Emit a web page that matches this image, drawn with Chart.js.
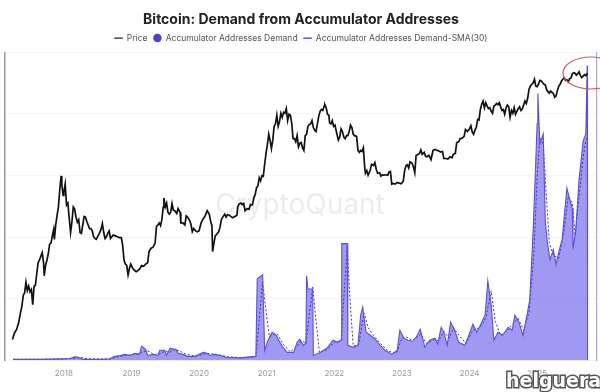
<!DOCTYPE html>
<html>
<head>
<meta charset="utf-8">
<script src="https://cdn.jsdelivr.net/npm/chart.js@4.4.1/dist/chart.umd.min.js"></script>
<style>
  html, body { margin: 0; padding: 0; background: #fff; }
  #wrap { width: 600px; height: 392px; }
</style>
</head>
<body>
<div id="wrap"><canvas id="myChart" width="600" height="392"></canvas></div>
<script>
// year ticks on the x axis
const yearTicks = [2018, 2019, 2020, 2021, 2022, 2023, 2024, 2025];

// BTC price (USD), x = decimal year
const priceT = [
    2017.24, 2017.27, 2017.30, 2017.33, 2017.36, 2017.38, 2017.40, 2017.42, 2017.44, 2017.46, 2017.48, 2017.50,
    2017.52, 2017.54, 2017.56, 2017.58, 2017.60, 2017.62, 2017.64, 2017.66, 2017.68, 2017.70, 2017.71, 2017.73,
    2017.75, 2017.77, 2017.79, 2017.81, 2017.83, 2017.85, 2017.86, 2017.88, 2017.90, 2017.92, 2017.94, 2017.96,
    2017.97, 2017.99, 2018.00, 2018.02, 2018.04, 2018.06, 2018.08, 2018.10, 2018.12, 2018.14, 2018.16, 2018.18,
    2018.20, 2018.22, 2018.24, 2018.26, 2018.28, 2018.30, 2018.32, 2018.34, 2018.36, 2018.38, 2018.40, 2018.42,
    2018.44, 2018.46, 2018.48, 2018.50, 2018.52, 2018.55, 2018.57, 2018.59, 2018.61, 2018.63, 2018.65, 2018.67,
    2018.69, 2018.71, 2018.73, 2018.76, 2018.79, 2018.82, 2018.85, 2018.87, 2018.89, 2018.91, 2018.93, 2018.95,
    2018.97, 2018.99, 2019.02, 2019.04, 2019.07, 2019.09, 2019.12, 2019.15, 2019.18, 2019.21, 2019.24, 2019.26,
    2019.29, 2019.32, 2019.35, 2019.37, 2019.39, 2019.41, 2019.43, 2019.45, 2019.47, 2019.48, 2019.50, 2019.52,
    2019.54, 2019.56, 2019.58, 2019.60, 2019.62, 2019.64, 2019.67, 2019.69, 2019.72, 2019.73, 2019.76, 2019.79,
    2019.81, 2019.83, 2019.86, 2019.88, 2019.90, 2019.92, 2019.95, 2019.97, 2020.00, 2020.03, 2020.06, 2020.09,
    2020.12, 2020.15, 2020.17, 2020.19, 2020.20, 2020.22, 2020.24, 2020.26, 2020.29, 2020.31, 2020.33, 2020.35,
    2020.38, 2020.40, 2020.42, 2020.45, 2020.48, 2020.50, 2020.53, 2020.56, 2020.57, 2020.59, 2020.62, 2020.64,
    2020.66, 2020.68, 2020.71, 2020.74, 2020.76, 2020.79, 2020.81, 2020.83, 2020.85, 2020.87, 2020.89, 2020.91,
    2020.93, 2020.95, 2020.97, 2020.99, 2021.01, 2021.03, 2021.05, 2021.07, 2021.09, 2021.11, 2021.13, 2021.15,
    2021.17, 2021.19, 2021.21, 2021.23, 2021.25, 2021.27, 2021.29, 2021.31, 2021.33, 2021.35, 2021.37, 2021.39,
    2021.41, 2021.43, 2021.45, 2021.47, 2021.49, 2021.51, 2021.53, 2021.55, 2021.57, 2021.59, 2021.61, 2021.63,
    2021.65, 2021.67, 2021.69, 2021.71, 2021.73, 2021.75, 2021.77, 2021.79, 2021.81, 2021.83, 2021.85, 2021.86,
    2021.88, 2021.90, 2021.92, 2021.93, 2021.95, 2021.97, 2021.99, 2022.01, 2022.03, 2022.06, 2022.08, 2022.10,
    2022.12, 2022.14, 2022.16, 2022.18, 2022.20, 2022.22, 2022.24, 2022.26, 2022.28, 2022.30, 2022.33, 2022.35,
    2022.37, 2022.39, 2022.41, 2022.43, 2022.45, 2022.46, 2022.48, 2022.50, 2022.53, 2022.55, 2022.58, 2022.60,
    2022.62, 2022.64, 2022.67, 2022.69, 2022.71, 2022.73, 2022.76, 2022.79, 2022.81, 2022.83, 2022.85, 2022.87,
    2022.90, 2022.93, 2022.96, 2022.99, 2023.02, 2023.04, 2023.06, 2023.08, 2023.10, 2023.12, 2023.15, 2023.17,
    2023.19, 2023.21, 2023.23, 2023.26, 2023.28, 2023.30, 2023.33, 2023.35, 2023.37, 2023.40, 2023.43, 2023.46,
    2023.49, 2023.51, 2023.54, 2023.57, 2023.60, 2023.62, 2023.65, 2023.68, 2023.71, 2023.74, 2023.76, 2023.79,
    2023.81, 2023.84, 2023.86, 2023.89, 2023.92, 2023.94, 2023.97, 2024.00, 2024.02, 2024.04, 2024.06, 2024.08,
    2024.10, 2024.12, 2024.14, 2024.16, 2024.18, 2024.20, 2024.22, 2024.24, 2024.26, 2024.28, 2024.30, 2024.32,
    2024.34, 2024.36, 2024.38, 2024.40, 2024.42, 2024.44, 2024.46, 2024.48, 2024.50, 2024.52, 2024.54, 2024.56,
    2024.58, 2024.60, 2024.62, 2024.64, 2024.66, 2024.68, 2024.70, 2024.72, 2024.74, 2024.76, 2024.78, 2024.80,
    2024.82, 2024.84, 2024.86, 2024.88, 2024.90, 2024.92, 2024.94, 2024.96, 2024.98, 2025.00, 2025.02, 2025.04,
    2025.06, 2025.08, 2025.10, 2025.12, 2025.14, 2025.16, 2025.18, 2025.20, 2025.22, 2025.24, 2025.26, 2025.28,
    2025.30, 2025.32, 2025.34, 2025.36, 2025.38, 2025.40, 2025.42, 2025.44, 2025.46, 2025.48, 2025.50, 2025.52,
    2025.54, 2025.56, 2025.58, 2025.60, 2025.62, 2025.64, 2025.66, 2025.68, 2025.70, 2025.72, 2025.74
];
const priceV = [
    1050, 1180, 1250, 1400, 1700, 1900, 2300, 2400, 2900, 2500, 2700, 2450,
    2550, 1950, 2700, 2750, 3400, 4100, 4300, 4600, 4900, 4100, 3250, 3900,
    4300, 4800, 5700, 5800, 6600, 7400, 6200, 8000, 9500, 11000, 15000, 19100,
    16500, 13500, 14200, 16500, 11400, 11800, 9000, 7000, 8500, 11000, 10600, 9200,
    8400, 8800, 7000, 6900, 8000, 9300, 9200, 8500, 8000, 7500, 7500, 7200,
    6500, 6300, 6200, 6500, 6800, 7400, 8200, 7000, 6300, 6500, 6900, 7200,
    6300, 6500, 6700, 6600, 6500, 6400, 6400, 5600, 4300, 4000, 3900, 3300,
    3700, 4000, 3700, 3600, 3500, 3550, 3650, 3900, 3850, 4000, 4100, 5000,
    5300, 5400, 5800, 7800, 8000, 8300, 7900, 8800, 11000, 12900, 11000, 11800,
    10000, 9700, 10000, 11700, 10400, 10300, 9800, 10700, 10000, 8300, 8300, 8000,
    9400, 9200, 8700, 8100, 7100, 7500, 7200, 7100, 7200, 8300, 8900, 9400,
    10300, 9700, 8600, 7900, 5000, 5800, 6600, 6800, 7100, 7700, 8800, 9200,
    9700, 9200, 9600, 9500, 9200, 9100, 9300, 9500, 10900, 11600, 11800, 11500,
    11700, 10300, 10700, 10600, 11500, 11400, 13000, 13700, 15500, 16000, 18500, 17500,
    19200, 19000, 23500, 28500, 33000, 40000, 36000, 31000, 36000, 46000, 48000, 56000,
    46000, 50000, 58000, 54000, 59000, 58000, 63000, 51000, 57000, 56000, 49000, 37000,
    37000, 35000, 39000, 32000, 34000, 34500, 31500, 30000, 39000, 40000, 46000, 47500,
    48000, 51000, 45000, 43000, 42000, 48000, 55000, 60000, 62000, 61000, 66000, 67500,
    64000, 57000, 56000, 49000, 48000, 51000, 46000, 47000, 42000, 36000, 38000, 44000,
    42000, 38000, 37000, 39000, 39000, 42000, 47000, 45000, 40000, 39000, 38500, 30000,
    29000, 30000, 29500, 31500, 22000, 20000, 21000, 19300, 21000, 23500, 23000, 24200,
    21500, 20000, 20200, 19000, 19500, 19400, 19500, 19300, 20500, 20700, 16500, 16700,
    16500, 17000, 16800, 16600, 17400, 21000, 22900, 23300, 22000, 24500, 24000, 22400,
    20200, 27500, 27800, 28400, 30300, 28000, 29000, 27000, 26800, 27500, 25500, 30000,
    30500, 30200, 29800, 29200, 29400, 26000, 26000, 25800, 26800, 26300, 28000, 28500,
    34500, 35000, 37000, 37300, 38500, 43500, 42000, 44000, 46500, 41500, 40000, 43000,
    45000, 52000, 51500, 62000, 68000, 72000, 64000, 70000, 66000, 63000, 64000, 60000,
    58000, 66000, 67000, 69000, 67500, 70000, 65000, 61000, 62000, 57000, 64000, 67000,
    65000, 54000, 61000, 58000, 64000, 57000, 60000, 63000, 65000, 61000, 62500, 67000,
    72000, 69000, 76000, 89000, 94000, 97000, 99000, 106000, 94000, 93000, 97000, 104000,
    103000, 100000, 97000, 96000, 88000, 85000, 83000, 86000, 84000, 82000, 77000, 79000,
    87000, 94000, 97000, 103000, 106000, 109000, 104000, 105000, 101000, 107000, 108000, 117000,
    119000, 118000, 114000, 117000, 121000, 113000, 109000, 112000, 115000, 113000, 118000
];

// Accumulator Addresses Demand (thousand BTC)
const demandT = [
    2017.25, 2017.65, 2017.94, 2018.09, 2018.16, 2018.22, 2018.28, 2018.53, 2018.68, 2018.75, 2018.83, 2018.90,
    2018.98, 2019.05, 2019.12, 2019.15, 2019.21, 2019.24, 2019.32, 2019.39, 2019.42, 2019.49, 2019.52, 2019.57,
    2019.66, 2019.69, 2019.76, 2019.83, 2019.94, 2020.06, 2020.12, 2020.16, 2020.23, 2020.31, 2020.41, 2020.60,
    2020.75, 2020.84, 2020.86, 2020.94, 2020.97, 2021.02, 2021.08, 2021.14, 2021.22, 2021.30, 2021.40, 2021.45,
    2021.49, 2021.54, 2021.58, 2021.59, 2021.61, 2021.68, 2021.69, 2021.79, 2021.89, 2021.98, 2022.05, 2022.10,
    2022.11, 2022.19, 2022.20, 2022.28, 2022.35, 2022.39, 2022.42, 2022.47, 2022.53, 2022.59, 2022.64, 2022.75,
    2022.85, 2022.93, 2022.97, 2023.03, 2023.09, 2023.16, 2023.22, 2023.27, 2023.34, 2023.41, 2023.49, 2023.53,
    2023.58, 2023.62, 2023.67, 2023.72, 2023.78, 2023.84, 2023.93, 2023.99, 2024.05, 2024.11, 2024.18, 2024.23,
    2024.27, 2024.32, 2024.36, 2024.42, 2024.49, 2024.57, 2024.63, 2024.67, 2024.73, 2024.79, 2024.85, 2024.89,
    2024.94, 2024.97, 2025.00, 2025.01, 2025.04, 2025.09, 2025.12, 2025.15, 2025.19, 2025.24, 2025.28, 2025.32,
    2025.37, 2025.41, 2025.44, 2025.49, 2025.52, 2025.53, 2025.57, 2025.62, 2025.68, 2025.72, 2025.74, 2025.745
];
const demandV = [
    8, 8, 12, 15, 27, 23, 8, 8, 12, 31, 38, 46,
    38, 54, 46, 108, 84, 38, 46, 38, 77, 77, 38, 92,
    84, 54, 46, 31, 31, 61, 54, 38, 46, 38, 23, 19,
    27, 31, 622, 653, 77, 154, 215, 192, 115, 61, 61, 138,
    161, 115, 131, 645, 545, 545, 38, 61, 92, 154, 138, 154,
    891, 891, 115, 100, 115, 346, 407, 215, 192, 169, 138, 77,
    46, 77, 230, 169, 154, 146, 184, 238, 100, 154, 169, 123,
    253, 215, 115, 292, 230, 138, 115, 192, 276, 215, 292, 346,
    607, 422, 154, 215, 192, 253, 230, 346, 292, 192, 346, 461,
    983, 1390, 1805, 2035, 1651, 1728, 1060, 906, 768, 845, 730, 829,
    922, 1152, 1313, 1213, 1160, 852, 983, 1382, 1674, 1728, 2250, 0
];

// Accumulator Addresses Demand-SMA(30) (thousand BTC)
const smaT = [
    2017.25, 2017.94, 2018.12, 2018.25, 2018.35, 2018.68, 2018.80, 2018.95, 2019.10, 2019.18, 2019.26, 2019.33,
    2019.42, 2019.50, 2019.56, 2019.62, 2019.70, 2019.80, 2019.95, 2020.10, 2020.20, 2020.30, 2020.42, 2020.65,
    2020.84, 2020.94, 2020.98, 2021.04, 2021.10, 2021.16, 2021.25, 2021.35, 2021.45, 2021.52, 2021.58, 2021.68,
    2021.73, 2021.78, 2021.90, 2022.00, 2022.10, 2022.19, 2022.24, 2022.28, 2022.36, 2022.44, 2022.50, 2022.58,
    2022.68, 2022.80, 2022.92, 2023.00, 2023.06, 2023.16, 2023.28, 2023.36, 2023.48, 2023.54, 2023.62, 2023.70,
    2023.76, 2023.86, 2023.95, 2024.05, 2024.15, 2024.24, 2024.32, 2024.38, 2024.46, 2024.56, 2024.66, 2024.72,
    2024.80, 2024.88, 2024.95, 2025.00, 2025.04, 2025.09, 2025.13, 2025.18, 2025.24, 2025.32, 2025.40, 2025.46,
    2025.52, 2025.56, 2025.62, 2025.68, 2025.73
];
const smaV = [
    8, 10, 15, 22, 12, 9, 28, 40, 48, 70, 70, 45,
    50, 72, 60, 80, 75, 48, 32, 52, 50, 42, 28, 20,
    28, 600, 420, 180, 200, 200, 120, 65, 110, 150, 130, 560,
    300, 60, 85, 140, 150, 860, 400, 110, 120, 360, 250, 190,
    130, 70, 55, 170, 180, 150, 200, 130, 160, 150, 220, 170,
    250, 180, 130, 230, 250, 320, 530, 300, 190, 230, 290, 320,
    230, 370, 800, 1400, 1700, 1650, 1300, 900, 800, 780, 1000, 1250,
    1200, 950, 1250, 1550, 1700
];

Chart.defaults.font.family = 'Inter, "Noto Sans", sans-serif';

// watermarks and the red circle drawn straight on the canvas
const overlays = {
    id: 'overlays',
    beforeDatasetsDraw(chart) {
        const ctx = chart.ctx;
        ctx.save();
        ctx.fillStyle = 'rgba(0,0,0,0.08)';
        ctx.font = '28px Inter, sans-serif';
        ctx.textAlign = 'center';
        ctx.textBaseline = 'middle';
        ctx.fillText('CryptoQuant', 300, 206);
        ctx.restore();
    },
    afterDraw(chart) {
        const ctx = chart.ctx;
        ctx.save();
        ctx.strokeStyle = '#d4604f';
        ctx.lineWidth = 1.2;
        ctx.beginPath();
        ctx.ellipse(591, 73, 28, 16, 0, 0, Math.PI * 2);
        ctx.stroke();

        ctx.font = 'bold 19px "DejaVu Sans", sans-serif';
        ctx.textAlign = 'left';
        ctx.textBaseline = 'alphabetic';
        ctx.lineWidth = 3;
        ctx.strokeStyle = '#555';
        ctx.strokeText('helguera', 506, 387);
        ctx.fillStyle = '#fff';
        ctx.fillText('helguera', 506, 387);
        ctx.restore();
    }
};

const ctx = document.getElementById('myChart').getContext('2d');

const myChart = new Chart(ctx, {
    type: 'line',
    data: {
        datasets: [
            {
                label: 'Price',
                data: priceT.map((t, i) => ({ x: t, y: priceV[i] })),
                yAxisID: 'y',
                borderColor: '#111',
                borderWidth: 1.7,
                pointRadius: 0,
                fill: false,
                legendStyle: 'line',
                legendColor: '#222'
            },
            {
                label: 'Accumulator Addresses Demand',
                data: demandT.map((t, i) => ({ x: t, y: demandV[i] })),
                yAxisID: 'y1',
                borderColor: '#5a4fe3',
                backgroundColor: 'rgba(120,110,235,0.7)',
                borderWidth: 1.1,
                pointRadius: 0,
                fill: 'origin',
                legendStyle: 'circle',
                legendColor: '#4a3fe0'
            },
            {
                label: 'Accumulator Addresses Demand-SMA(30)',
                data: smaT.map((t, i) => ({ x: t, y: smaV[i] })),
                yAxisID: 'y1',
                borderColor: '#3a30c0',
                borderWidth: 1,
                borderDash: [2, 2],
                pointRadius: 0,
                fill: false,
                legendStyle: 'line',
                legendColor: '#3a30c0'
            }
        ]
    },
    options: {
        responsive: false,
        animation: false,
        devicePixelRatio: 1,
        layout: { padding: { left: 5, right: 3, top: 0, bottom: 6 } },
        plugins: {
            filler: { drawTime: 'beforeDatasetsDraw' },
            tooltip: { enabled: false },
            title: {
                display: true,
                text: 'Bitcoin: Demand from Accumulator Addresses',
                color: '#222',
                font: { size: 14, weight: 'bold' },
                padding: { top: 11, bottom: 0 }
            },
            legend: {
                position: 'top',
                labels: {
                    usePointStyle: true,
                    boxWidth: 8,
                    boxHeight: 6,
                    padding: 6,
                    color: '#555',
                    font: { size: 8.5 },
                    generateLabels(chart) {
                        const items = Chart.defaults.plugins.legend.labels.generateLabels(chart);
                        items.forEach(it => {
                            const ds = chart.data.datasets[it.datasetIndex];
                            it.pointStyle = ds.legendStyle;
                            it.fillStyle = ds.legendColor;
                            it.strokeStyle = ds.legendColor;
                            it.lineWidth = ds.legendStyle === 'circle' ? 0 : 1.2;
                        });
                        return items;
                    }
                }
            }
        },
        scales: {
            x: {
                type: 'linear',
                min: 2017.13,
                max: 2025.885,
                afterBuildTicks: scale => {
                    scale.ticks = yearTicks.map(v => ({ value: v }));
                },
                grid: { display: false, drawTicks: false },
                border: { display: false },
                ticks: {
                    autoSkip: false,
                    maxRotation: 0,
                    padding: 8,
                    color: '#999',
                    font: { size: 8 },
                    callback: v => String(v)
                }
            },
            y: {
                type: 'logarithmic',
                position: 'left',
                min: 725,
                max: 171000,
                ticks: { display: false },
                grid: { display: false, drawTicks: false },
                border: { display: true, color: '#999', width: 1.5 }
            },
            y1: {
                type: 'linear',
                position: 'right',
                min: 0,
                max: 2350,
                ticks: { display: false, stepSize: 500 },
                grid: { color: '#f6f6f6', drawTicks: false },
                border: { display: true, color: '#aaa7dc', width: 1.2 }
            }
        }
    },
    plugins: [overlays]
});
</script>
</body>
</html>
